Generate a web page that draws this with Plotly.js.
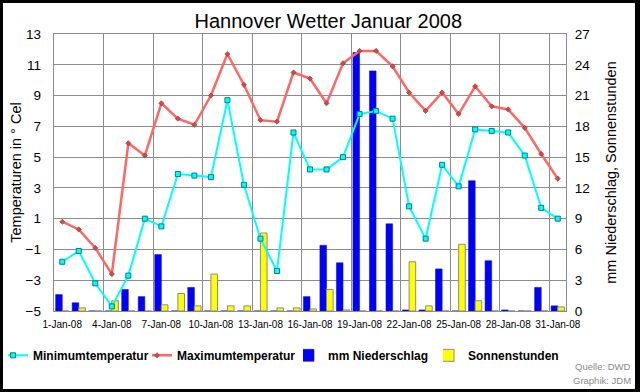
<!DOCTYPE html>
<html>
<head>
<meta charset="utf-8">
<script src="https://cdn.plot.ly/plotly-3.0.1.min.js"></script>
<style>
  html, body { margin: 0; padding: 0; background: #000; width: 640px; height: 392px; overflow: hidden; }
  #chart { position: absolute; left: 3px; top: 3px; width: 632px; height: 386px; background: #fff; }
</style>
</head>
<body>
<div id="chart"></div>
<script>
const days = ['1-Jan-08','2-Jan-08','3-Jan-08','4-Jan-08','5-Jan-08','6-Jan-08','7-Jan-08','8-Jan-08','9-Jan-08','10-Jan-08',
  '11-Jan-08','12-Jan-08','13-Jan-08','14-Jan-08','15-Jan-08','16-Jan-08','17-Jan-08','18-Jan-08','19-Jan-08','20-Jan-08',
  '21-Jan-08','22-Jan-08','23-Jan-08','24-Jan-08','25-Jan-08','26-Jan-08','27-Jan-08','28-Jan-08','29-Jan-08','30-Jan-08','31-Jan-08'];
const tickLabels = ['1-Jan-08','4-Jan-08','7-Jan-08','10-Jan-08','13-Jan-08','16-Jan-08','19-Jan-08','22-Jan-08','25-Jan-08','28-Jan-08','31-Jan-08'];
const minTemp = [-1.8,-1.1,-3.2,-4.7,-2.7,1.0,0.5,3.9,3.8,3.7,8.7,3.2,-0.3,-2.4,6.6,4.2,4.2,5.0,7.8,8.0,7.5,1.8,-0.3,4.5,3.1,6.8,6.7,6.6,5.1,1.7,1.0];
const maxTemp = [0.8,0.3,-0.9,-2.6,5.9,5.1,8.5,7.5,7.1,9.0,11.7,9.7,7.4,7.3,10.5,10.1,8.5,11.1,11.9,11.9,10.9,9.2,8.0,9.2,7.8,9.6,8.3,8.1,6.9,5.2,3.6];
const niederschlag = [1.6,0.8,0,0,2.1,1.4,5.5,0,2.3,0,0,0,0,0,0,1.4,6.4,4.7,25.2,23.4,8.5,0.1,0.1,4.1,0,12.7,4.9,0.1,0,2.3,0.5];
const sonne = [0,0.3,0,1.0,0,0,0.6,1.7,0.5,3.6,0.5,0.5,7.6,0.3,0.3,0.2,2.1,0.1,0,0,0,4.8,0.5,0,6.5,1.0,0,0,0,0,0.4];
const tempTicks = [-5,-3,-1,1,3,5,7,9,11,13];
const mmTicks = [0,3,6,9,12,15,18,21,24,27];

// day positions on the x axis (index of each category) and the label positions
const xPos = days.map((d, i) => i);
const tickPos = tickLabels.map(t => days.indexOf(t));

const FONT = '"Liberation Sans", Arial, sans-serif';

const traces = [
  { type: 'bar', name: 'mm Niederschlag', x: xPos, y: niederschlag, yaxis: 'y', legend: 'legend3',
    text: days, hoverinfo: 'text+y', textposition: 'none',
    marker: { color: '#0000FF', line: { color: '#1a1a99', width: 0.6 } } },
  { type: 'bar', name: 'Sonnenstunden', x: xPos, y: sonne, yaxis: 'y', legend: 'legend4',
    text: days, hoverinfo: 'text+y', textposition: 'none',
    marker: { color: '#FFFF00', line: { color: '#8a8a8a', width: 1 } } },
  { type: 'scatter', mode: 'lines+markers', name: 'Minimumtemperatur', x: xPos, y: minTemp, yaxis: 'y2', legend: 'legend',
    line: { color: '#00FFFF', width: 2 },
    marker: { symbol: 'square', size: 5, color: '#00FFFF', line: { color: '#008080', width: 1 } } },
  { type: 'scatter', mode: 'lines+markers', name: 'Maximumtemperatur', x: xPos, y: maxTemp, yaxis: 'y2', legend: 'legend2',
    line: { color: '#FF6666', width: 2.5 },
    marker: { symbol: 'diamond', size: 4, color: '#D04A4A', line: { color: '#7a3a3a', width: 0.6 } } }
];

const legendBase = { orientation: 'h', xanchor: 'left', yanchor: 'middle', y: -0.16, indentation: -15,
  bgcolor: 'rgba(0,0,0,0)', borderwidth: 0, font: { family: FONT, size: 12, color: '#000', weight: 'bold' } };

const layout = {
  width: 632, height: 386,
  margin: { l: 51, r: 69, t: 31, b: 78, autoexpand: false },
  paper_bgcolor: '#fff', plot_bgcolor: '#fff',
  font: { family: FONT, color: '#000' },
  showlegend: true,
  title: { text: 'Hannover Wetter Januar 2008', font: { family: FONT, size: 20, color: '#000' },
    xref: 'container', x: 0.5147, xanchor: 'center', yref: 'container', y: 0.934, yanchor: 'bottom' },
  barmode: 'group', bargap: 0.2, bargroupgap: 0,
  xaxis: { type: 'linear', range: [-0.5, 30.5], tickmode: 'array', tickvals: tickPos, ticktext: tickLabels,
    showgrid: false, ticks: '', ticklabelstandoff: 4,
    minor: { tickmode: 'linear', tick0: -0.5, dtick: 3, showgrid: true, gridcolor: '#8c8c8c', gridwidth: 1, ticks: '' },
    showline: true, linecolor: '#8c8c8c', linewidth: 1, mirror: true, zeroline: false,
    tickfont: { family: FONT, size: 10, color: '#000' }, tickangle: 0, fixedrange: true },
  yaxis: { side: 'right', range: [0, 27], tickmode: 'array', tickvals: mmTicks,
    showgrid: true, gridcolor: '#8c8c8c', gridwidth: 1, zeroline: false, ticks: '', ticklabelstandoff: 5,
    showline: true, linecolor: '#8c8c8c', mirror: true,
    tickfont: { family: FONT, size: 13.5, color: '#000' },
    title: { text: 'mm Niederschlag, Sonnenstunden', font: { family: FONT, size: 14.5, color: '#000' }, standoff: 16 } },
  yaxis2: { side: 'left', overlaying: 'y', range: [-5, 13], tickmode: 'array', tickvals: tempTicks,
    showgrid: false, zeroline: false, ticks: '', ticklabelstandoff: 12,
    tickfont: { family: FONT, size: 13.5, color: '#000' },
    title: { text: 'Temperaturen in ° Cel', font: { family: FONT, size: 14.5, color: '#000' }, standoff: 0 } },
  legend: Object.assign({}, legendBase, { x: -0.0898 }),
  legend2: Object.assign({}, legendBase, { x: 0.1914 }),
  legend3: Object.assign({}, legendBase, { x: 0.4863 }),
  legend4: Object.assign({}, legendBase, { x: 0.7598 }),
  annotations: [
    { text: 'Quelle: DWD', xref: 'paper', yref: 'paper', x: 1.131, y: -0.1986, xanchor: 'right', yanchor: 'middle',
      showarrow: false, font: { family: FONT, size: 9.5, color: '#8a8a8a' } },
    { text: 'Graphik: JDM', xref: 'paper', yref: 'paper', x: 1.131, y: -0.2516, xanchor: 'right', yanchor: 'middle',
      showarrow: false, font: { family: FONT, size: 9.5, color: '#8a8a8a' } }
  ]
};

Plotly.newPlot('chart', traces, layout, { displayModeBar: false, staticPlot: true });
</script>
</body>
</html>
